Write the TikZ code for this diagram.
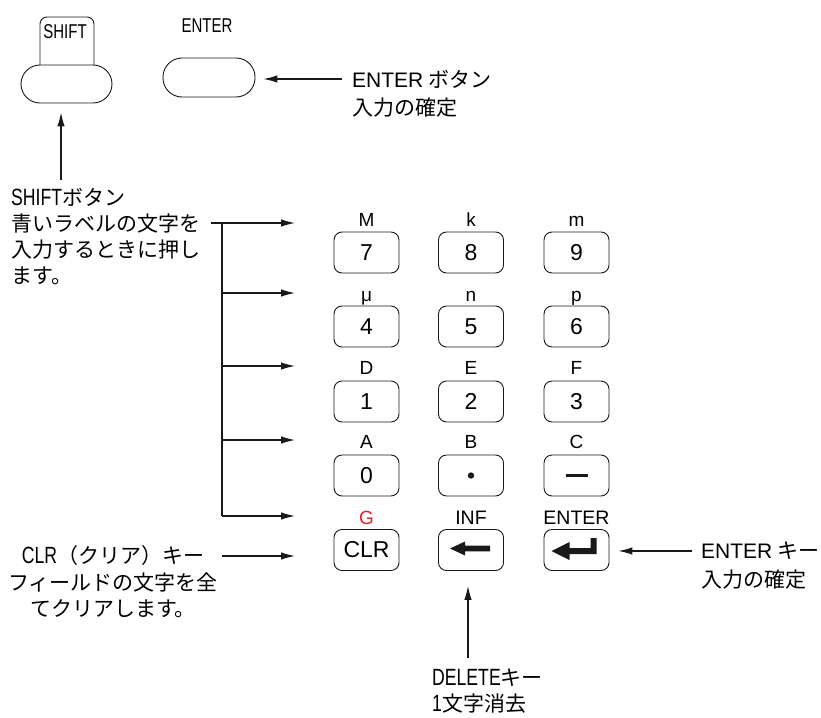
\documentclass[tikz,border=0pt]{standalone}
\usepackage{fontspec}
\setmainfont{Liberation Sans}
\newfontfamily\jp{Noto Sans CJK JP}
\newfontfamily\cnd[FakeStretch=0.75]{Liberation Sans}
\newcommand\cnl[1]{{\cnd\fontsize{23.5}{26}\selectfont #1}}
\usetikzlibrary{arrows.meta}
\definecolor{gred}{RGB}{230,30,40}
\definecolor{ink}{RGB}{25,25,25}
\begin{document}
\begin{tikzpicture}[x=1pt,y=-1pt,
  key/.style={draw=ink, line width=0.9pt, rounded corners=8pt, minimum width=65pt, minimum height=41pt, inner sep=0pt, font=\fontsize{23}{23}\selectfont},
  klabel/.style={inner sep=0pt, anchor=base, font=\fontsize{19}{19}\selectfont},
  pill/.style={draw=ink, line width=0.9pt, rounded corners=19pt, inner sep=0pt},
  arr/.style={draw=ink, line width=1.2pt, -{Latex[length=14pt,width=7.5pt]}},
  plainline/.style={draw=ink, line width=1.2pt},
  jtext/.style={inner sep=0pt, font=\jp\fontsize{21}{26}\selectfont},
]
\useasboundingbox (0,0) rectangle (821,717);

% ---- top buttons
\draw[plainline, line width=0.9pt, rounded corners=7pt] (40,65) -- (40,17) -- (94,17) -- (94,65);
\node[pill, minimum width=91pt, minimum height=38pt] (shiftkey) at (66.5,84) {};
\node[inner sep=0pt, anchor=base, font=\cnd\fontsize{20}{20}\selectfont] (shiftcap) at (65,38.5) {SHIFT};
\node[pill, minimum width=92pt, minimum height=39pt] (enterkey) at (209,77.5) {};
\node[inner sep=0pt, anchor=base, font=\cnd\fontsize{20}{20}\selectfont] (entercap) at (207,32.5) {ENTER};

\coordinate (entfoot) at (342,79);
\draw[arr, shorten >=8pt] (entfoot) -- (entfoot -| enterkey.east);
\node[jtext, anchor=west, align=left, font=\jp\fontsize{21}{28}\selectfont] (entertxt) at (352,94) {{\rmfamily ENTER} ボタン\\入力の確定};

\coordinate (shfoot) at (61,180);
\draw[arr, shorten >=9pt] (shfoot) -- (shfoot |- shiftkey.south);
\node[jtext, anchor=west, align=left, font=\jp\fontsize{21}{25.7}\selectfont] (shifttxt) at (11,236.5) {\cnl{SHIFT}ボタン\\青いラベルの文字を\\入力するときに押し\\ます。};

% ---- keypad
\node[key] (k7) at (366.5,252.5) {7};
\node[key] (k8) at (471,252.5) {8};
\node[key] (k9) at (576.5,252.5) {9};
\node[key] (k4) at (366.5,326.5) {4};
\node[key] (k5) at (471,326.5) {5};
\node[key] (k6) at (576.5,326.5) {6};
\node[key] (k1) at (366.5,401.5) {1};
\node[key] (k2) at (471,401.5) {2};
\node[key] (k3) at (576.5,401.5) {3};
\node[key] (k0) at (366.5,475.5) {0};
\node[key] (kdot) at (471,475.5) {};
\node[key] (kminus) at (576.5,475.5) {};
\node[key] (kclr) at (366.5,550) {CLR};
\node[key] (kdel) at (471,550) {};
\node[key] (kent) at (576.5,550) {};

\node[klabel] (lM) at (366.5,226) {M};
\node[klabel] (lk) at (471,226) {k};
\node[klabel] (lm) at (576.5,226) {m};
\node[klabel] (lmu) at (366.5,301) {μ};
\node[klabel] (ln) at (471,301) {n};
\node[klabel] (lp) at (576.5,301) {p};
\node[klabel] (lD) at (366.5,374.5) {D};
\node[klabel] (lE) at (471,374.5) {E};
\node[klabel] (lF) at (576.5,374.5) {F};
\node[klabel] (lA) at (366.5,448.5) {A};
\node[klabel] (lB) at (471,448.5) {B};
\node[klabel] (lC) at (576.5,448.5) {C};
\node[klabel, text=gred] (lG) at (366.5,524) {G};
\node[klabel, font=\fontsize{19.5}{19.5}\selectfont] (lINF) at (471,524) {INF};
\node[klabel, font=\fontsize{19.5}{19.5}\selectfont] (lENT) at (576.5,524) {ENTER};

% key glyphs
\fill[ink] (kdot.center) circle[radius=3.2pt];
\draw[ink, line width=3.4pt] ([xshift=-11pt]kminus.center) -- ([xshift=11pt]kminus.center);
\fill[ink, shift={(kdel.center)}] (-21,-1.5) -- (-6,-8.5) -- (-6,-4.3) -- (19,-4.3) -- (19,1.3) -- (-6,1.3) -- (-6,5.5) -- cycle;
\fill[ink, shift={(kent.center)}] (-25,1) -- (-7,-8) -- (-7,-2) -- (14,-2) -- (14,-12) -- (20,-12) -- (20,4) -- (-7,4) -- (-7,10) -- cycle;

% ---- bracket arrows
\coordinate (bs) at (211,223);
\coordinate (b1) at (222,223);
\coordinate (b2) at (222,293);
\coordinate (b3) at (222,366);
\coordinate (b4) at (222,440);
\coordinate (b5) at (222,516);
\coordinate (t1) at (295,223);
\coordinate (t2) at (295,293);
\coordinate (t3) at (295,366);
\coordinate (t4) at (295,440);
\coordinate (t5) at (295,516);
\draw[arr] (bs) -- (t1);
\draw[plainline] (b1) -- (b5);
\draw[arr] (b2) -- (t2);
\draw[arr] (b3) -- (t3);
\draw[arr] (b4) -- (t4);
\draw[arr] (b5) -- (t5);

% ---- CLR
\coordinate (clrfoot) at (222,556);
\coordinate (clrtip) at (295,556);
\draw[arr] (clrfoot) -- (clrtip);
\node[jtext, align=center, font=\jp\fontsize{21}{26.5}\selectfont] (clrtxt) at (113,582) {\cnl{CLR}（クリア）キー\\フィールドの文字を全\\てクリアします。};

% ---- ENTER key (right)
\coordinate (entfoot2) at (692,551);
\draw[arr, shorten >=9pt] (entfoot2) -- (entfoot2 -| kent.east);
\node[jtext, anchor=west, align=left, font=\jp\fontsize{21}{29}\selectfont] (enttxt2) at (701,565.5) {{\rmfamily ENTER} キー\\入力の確定};

% ---- DELETE
\coordinate (delfoot) at (468,658);
\draw[arr, shorten >=15pt] (delfoot) -- (delfoot |- kdel.south);
\node[jtext, anchor=west, align=left, font=\jp\fontsize{21}{26}\selectfont] (deltxt) at (432,691) {\cnl{DELETE}キー\\\cnl{1}文字消去};
\end{tikzpicture}
\end{document}
